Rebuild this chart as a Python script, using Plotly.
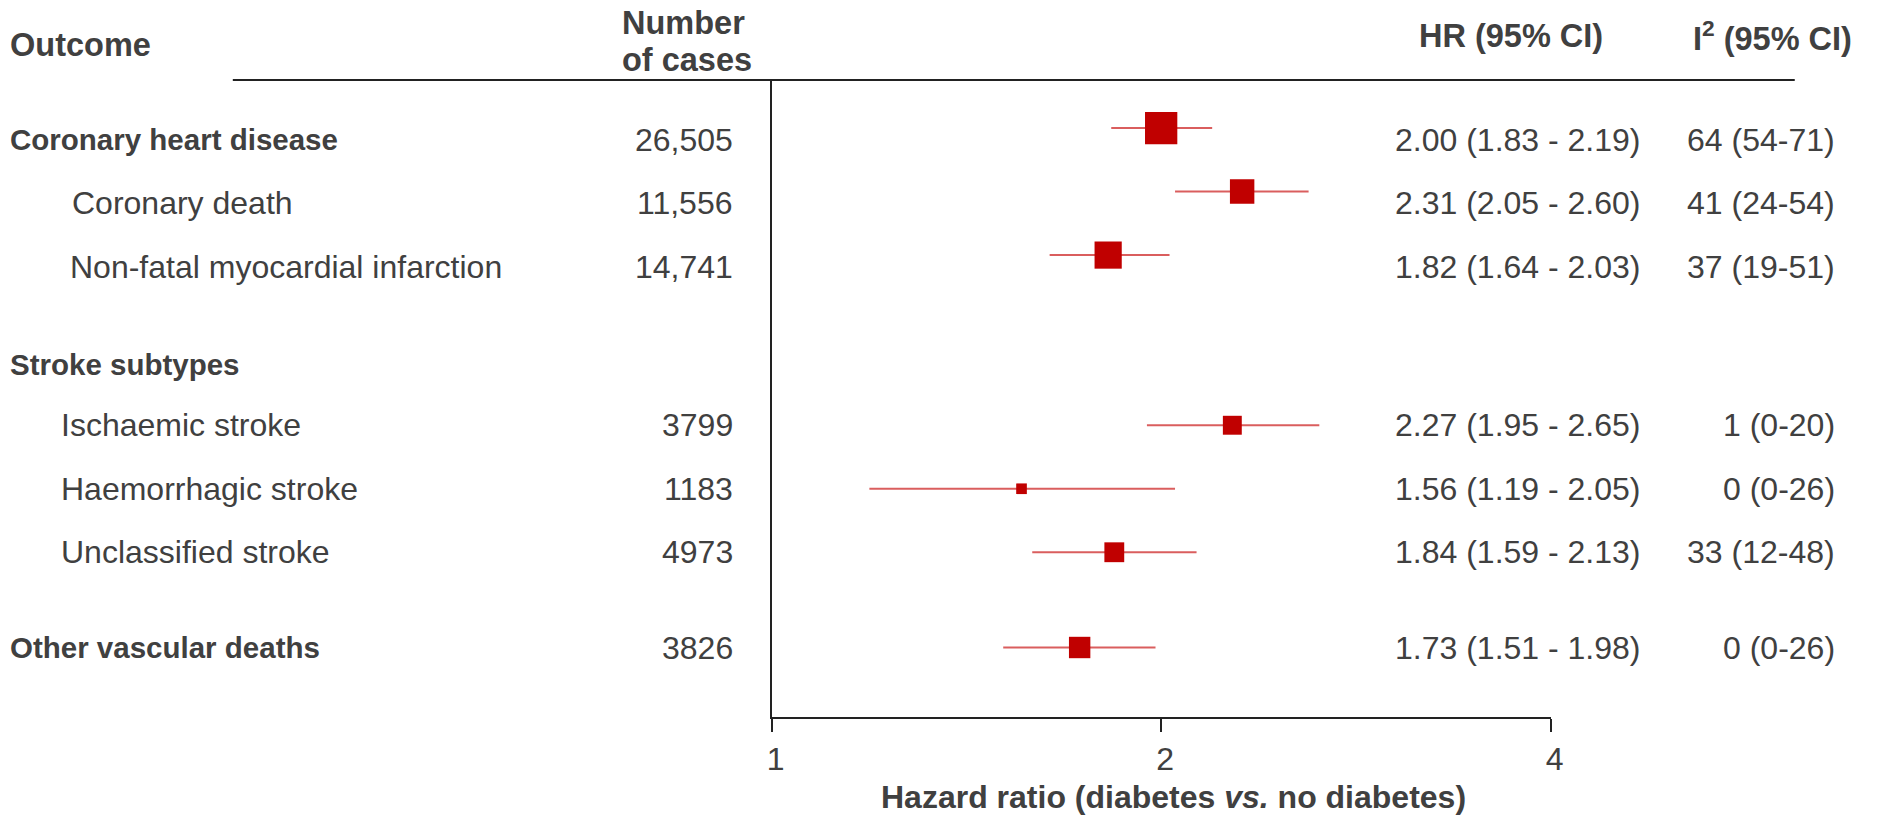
import numpy as np
import plotly.graph_objects as go

# ---------------- data ----------------
outcomes = ["Coronary heart disease", "Coronary death", "Non-fatal myocardial infarction",
            "Stroke subtypes", "Ischaemic stroke", "Haemorrhagic stroke",
            "Unclassified stroke", "Other vascular deaths"]
is_heading = [True, False, False, True, False, False, False, True]
cases = ["26,505", "11,556", "14,741", "", "3799", "1183", "4973", "3826"]
hr = [2.00, 2.31, 1.82, None, 2.27, 1.56, 1.84, 1.73]
hr_lo = [1.83, 2.05, 1.64, None, 1.95, 1.19, 1.59, 1.51]
hr_hi = [2.19, 2.60, 2.03, None, 2.65, 2.05, 2.13, 1.98]
i2 = [64, 41, 37, None, 1, 0, 33, 0]
i2_lo = [54, 24, 19, None, 0, 0, 12, 0]
i2_hi = [71, 54, 51, None, 20, 26, 48, 26]
x_ticks = [1, 2, 4]
x_ticklabels = ["1", "2", "4"]

# ---------------- layout constants ----------------
W, H = 1886, 816
row_slot = [0, 1, 2, 3.55, 4.5, 5.5, 6.5, 8.0]
mark_shift = [-0.18, -0.18, -0.18, 0, 0, 0, 0, 0]
label_x = [3, 66, 64, 3, 55, 55, 55, 3]
ROW0_PX, ROW_PX = 139.5, 63.5
AX_BOTTOM_PX, AX_TOP_PX = 717, 80
X1_PX, PX_PER_DOUBLING = 774, 393.3
CASES_X, HR_X, I2_X = 737, 1653, 1850

TEXT = "#404040"
RED = "#C00000"
FONT = "Liberation Sans, Arial, sans-serif"


def px_x(x):
    return x / W


def px_y(y):
    return 1 - y / H


def slot_of_px(y):
    return (y - ROW0_PX) / ROW_PX


fig = go.Figure()

# CI lines
xs, ys = [], []
for k in range(len(outcomes)):
    if hr[k] is None:
        continue
    yy = row_slot[k] + mark_shift[k]
    xs += [hr_lo[k], hr_hi[k], None]
    ys += [yy, yy, None]
fig.add_trace(go.Scatter(x=xs, y=ys, mode="lines",
                         line=dict(color="rgba(205,40,40,0.75)", width=2),
                         hoverinfo="skip", showlegend=False))

# squares sized by precision (1/SE from the 95% CI)
mx, my, ms = [], [], []
for k in range(len(outcomes)):
    if hr[k] is None:
        continue
    se = (np.log(hr_hi[k]) - np.log(hr_lo[k])) / 3.92
    mx.append(hr[k])
    my.append(row_slot[k] + mark_shift[k])
    ms.append(1.48 / se)
fig.add_trace(go.Scatter(x=mx, y=my, mode="markers",
                         marker=dict(symbol="square", size=ms, color=RED, opacity=1,
                                     line=dict(width=0)),
                         hoverinfo="skip", showlegend=False))

ann = []
for k, name in enumerate(outcomes):
    ann.append(dict(text=f"<b>{name}</b>" if is_heading[k] else name,
                    x=px_x(label_x[k]), xref="paper", xanchor="left",
                    y=row_slot[k], yref="y", yanchor="middle", showarrow=False,
                    font=dict(size=29.5 if is_heading[k] else 32, color=TEXT, family=FONT)))
    if cases[k]:
        ann.append(dict(text=cases[k], x=px_x(CASES_X), xref="paper", xanchor="right",
                        y=row_slot[k], yref="y", yanchor="middle", showarrow=False,
                        font=dict(size=32, color=TEXT, family=FONT)))
    if hr[k] is not None:
        ann.append(dict(text=f"{hr[k]:.2f} ({hr_lo[k]:.2f} - {hr_hi[k]:.2f})",
                        x=px_x(HR_X), xref="paper", xanchor="right",
                        y=row_slot[k], yref="y", yanchor="middle", showarrow=False,
                        font=dict(size=32, color=TEXT, family=FONT)))
        ann.append(dict(text=f"{i2[k]} ({i2_lo[k]}-{i2_hi[k]})",
                        x=px_x(I2_X), xref="paper", xanchor="right",
                        y=row_slot[k], yref="y", yanchor="middle", showarrow=False,
                        font=dict(size=32, color=TEXT, family=FONT)))

# headers
hdr_font = dict(size=32.5, color=TEXT, family=FONT)
ann += [
    dict(text="<b>Outcome</b>", x=px_x(3), y=px_y(44.5), xanchor="left"),
    dict(text="<b>Number</b>", x=px_x(621), y=px_y(23), xanchor="left"),
    dict(text="<b>of cases</b>", x=px_x(621), y=px_y(60), xanchor="left"),
    dict(text="<b>HR (95% CI)</b>", x=px_x(1615), y=px_y(36), xanchor="right"),
    dict(text="<b>I<sup>2</sup> (95% CI)</b>", x=px_x(1867), y=px_y(36), xanchor="right"),
    dict(text="<b>Hazard ratio (diabetes <i>vs.</i> no diabetes)</b>",
         x=px_x(1180), y=px_y(797), xanchor="center", font=dict(size=32, color=TEXT, family=FONT)),
]
for a in ann[-6:]:
    a.setdefault("font", hdr_font)
    a.update(xref="paper", yref="paper", yanchor="middle", showarrow=False)

# header rule
shapes = [dict(type="line", xref="paper", yref="paper",
               x0=px_x(230), x1=px_x(1807), y0=px_y(80), y1=px_y(80),
               line=dict(color="#222222", width=2))]

x_right_px = X1_PX + PX_PER_DOUBLING * np.log2(max(x_ticks))
fig.update_layout(
    width=W, height=H, autosize=False, margin=dict(l=0, r=0, t=0, b=0, pad=0),
    paper_bgcolor="white", plot_bgcolor="white",
    annotations=ann, shapes=shapes,
    xaxis=dict(type="log", range=[0, np.log10(max(x_ticks))],
               domain=[px_x(X1_PX), px_x(x_right_px)],
               tickvals=x_ticks, ticktext=x_ticklabels,
               showline=True, linecolor="#222222", linewidth=2,
               ticks="outside", ticklen=13, tickwidth=2, tickcolor="#222222",
               ticklabelshift=4,
               showgrid=False, zeroline=False,
               tickfont=dict(size=32, color=TEXT, family=FONT)),
    yaxis=dict(range=[slot_of_px(AX_BOTTOM_PX), slot_of_px(AX_TOP_PX)],
               domain=[px_y(AX_BOTTOM_PX), px_y(AX_TOP_PX)],
               showline=True, linecolor="#222222", linewidth=1.5,
               showticklabels=False, ticks="", showgrid=False, zeroline=False),
)

fig.write_html("out.html",
               config={"responsive": False, "displayModeBar": False},
               post_script="document.body.style.margin='0';document.body.style.overflow='hidden';")
